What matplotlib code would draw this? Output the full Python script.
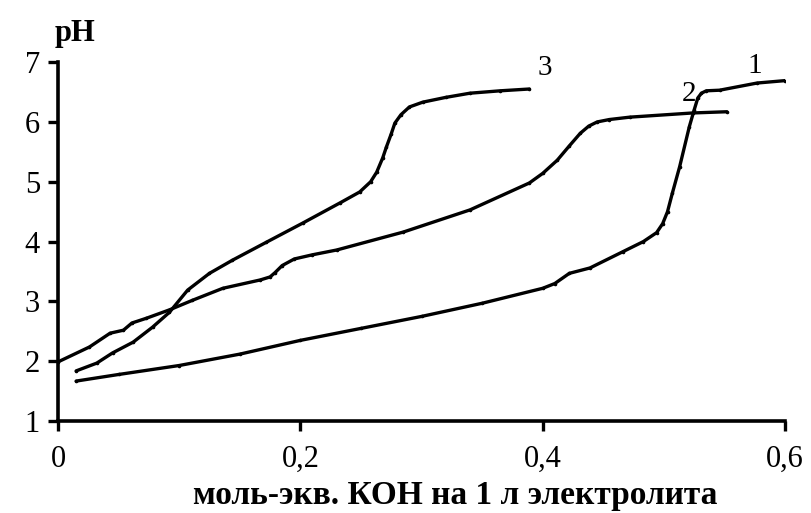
import matplotlib
matplotlib.use("Agg")
import matplotlib.pyplot as plt

# titration curves, pH vs KOH added (mol-eq per 1 L of electrolyte)
x1 = [0.015, 0.05, 0.10, 0.15, 0.20, 0.25, 0.30, 0.35, 0.40, 0.41, 0.422, 0.439,
      0.466, 0.483, 0.494, 0.499, 0.503, 0.507, 0.513, 0.521, 0.525, 0.528, 0.531,
      0.535, 0.546, 0.577, 0.60]
y1 = [1.67, 1.78, 1.93, 2.12, 2.35, 2.55, 2.75, 2.97, 3.22, 3.30, 3.47, 3.56,
      3.83, 4.00, 4.15, 4.30, 4.50, 4.81, 5.25, 5.92, 6.20, 6.40, 6.48,
      6.52, 6.53, 6.65, 6.69]

x2 = [0.0, 0.026, 0.043, 0.054, 0.061, 0.073, 0.092, 0.111, 0.136, 0.167, 0.175,
      0.179, 0.185, 0.195, 0.21, 0.230, 0.285, 0.340, 0.389, 0.40, 0.412, 0.422,
      0.431, 0.438, 0.445, 0.455, 0.472, 0.524, 0.552]
y2 = [1.99, 2.24, 2.47, 2.52, 2.64, 2.72, 2.86, 3.02, 3.22, 3.36, 3.41,
      3.48, 3.60, 3.71, 3.78, 3.86, 4.16, 4.53, 4.98, 5.14, 5.36, 5.60,
      5.81, 5.93, 6.00, 6.04, 6.08, 6.15, 6.17]

x3 = [0.015, 0.032, 0.045, 0.062, 0.078, 0.092, 0.107, 0.125, 0.144, 0.172, 0.202,
      0.233, 0.249, 0.258, 0.263, 0.268, 0.271, 0.275, 0.278, 0.283, 0.290, 0.301,
      0.320, 0.340, 0.365, 0.389]
y3 = [1.84, 1.97, 2.14, 2.32, 2.57, 2.82, 3.19, 3.47, 3.69, 3.99, 4.31,
      4.65, 4.83, 5.00, 5.16, 5.40, 5.58, 5.80, 5.98, 6.12, 6.25, 6.33,
      6.41, 6.48, 6.52, 6.55]

curve_labels = ["1", "2", "3"]
label_pos = [(0.575, 6.93), (0.521, 6.47), (0.402, 6.90)]

xticks = [0, 0.2, 0.4, 0.6]
xtick_labels = ["0", "0,2", "0,4", "0,6"]
yticks = [1, 2, 3, 4, 5, 6, 7]

plt.rcParams['font.family'] = ['Liberation Serif', 'DejaVu Serif']

fig = plt.figure(figsize=(8.11, 5.13), dpi=100)
ax = fig.add_axes([0.0715, 0.179, 0.8965, 0.700])

for xs, ys in [(x1, y1), (x2, y2), (x3, y3)]:
    ax.plot(xs, ys, color="black", lw=2.4, solid_capstyle="round",
            solid_joinstyle="round", marker="o", markersize=1.6)

for lab, (lx, ly) in zip(curve_labels, label_pos):
    ax.text(lx, ly, lab, fontsize=21, ha="center", va="center")

ax.set_xlim(0, 0.6)
ax.set_ylim(1, 7)
ax.set_xticks(xticks)
ax.set_xticklabels(xtick_labels)
ax.set_yticks(yticks)
ax.tick_params(labelsize=22, width=2.4, length=7, direction="out", pad=10)
ax.tick_params(axis="y", pad=6)

for side in ["top", "right"]:
    ax.spines[side].set_visible(False)
for side in ["left", "bottom"]:
    ax.spines[side].set_linewidth(2.6)

ax.set_xlabel("моль-экв. КОН на 1 л электролита", fontsize=24,
              fontweight="bold")
ax.xaxis.set_label_coords(0.546, -0.163)
fig.text(0.0925, 0.935, "pH", fontsize=22, fontweight="bold",
         ha="center", va="center")

fig.savefig("out.png", dpi=100)
